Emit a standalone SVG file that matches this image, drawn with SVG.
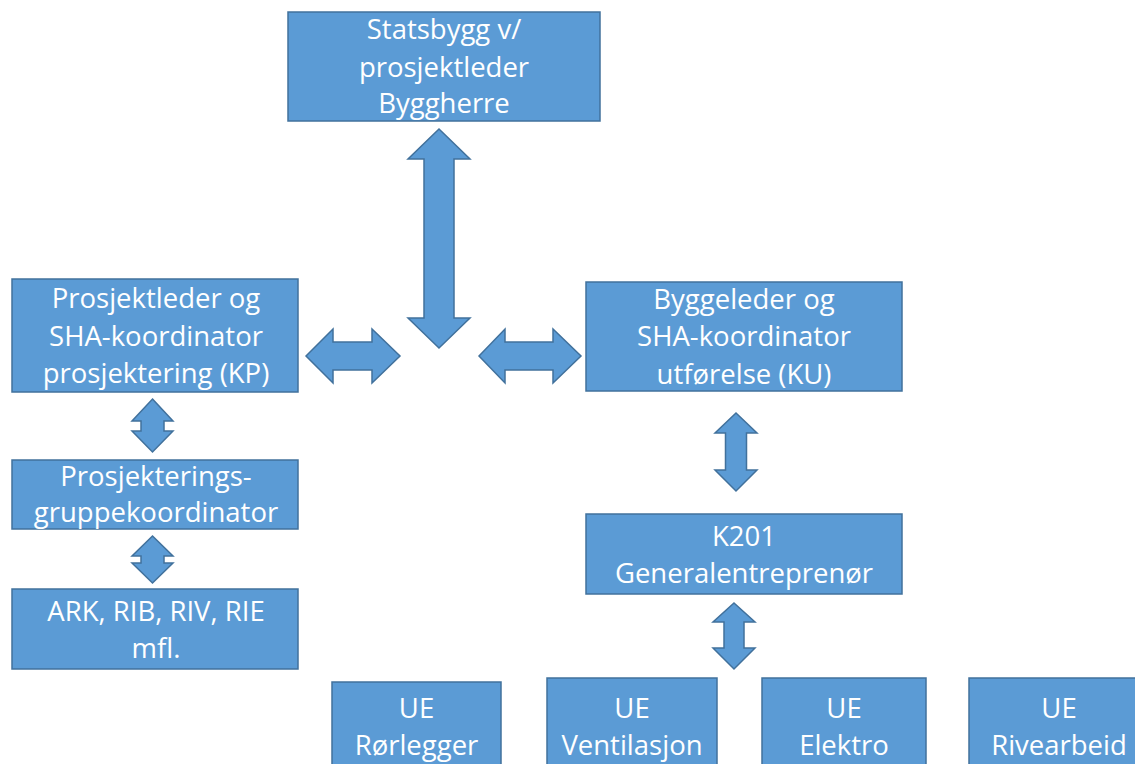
<svg xmlns="http://www.w3.org/2000/svg" width="1135" height="764" viewBox="0 0 1135 764">
<style>
.box{fill:#5B9BD5;stroke:#41719C;stroke-width:1.5}
.arr{fill:#5B9BD5;stroke:#41719C;stroke-width:1.5;stroke-linejoin:miter}
text{font-family:"Open Sans","Noto Sans","Liberation Sans",sans-serif;font-size:27.5px;fill:#FFFFFF;text-anchor:middle}
</style>
<rect width="1135" height="764" fill="#FFFFFF"/>
<g id="connectors">
<polygon class="arr" points="439,129 470,159 454,159 454,318 470,318 439,348 408,318 424,318 424,159 408,159"/>
<polygon class="arr" points="306,356 333,329 333,342 372,342 372,329 400,356 372,383 372,370 333,370 333,383"/>
<polygon class="arr" points="479,356 505,329 505,342 553,342 553,329 581,356 553,383 553,370 505,370 505,383"/>
<polygon class="arr" points="152.5,399 173,421 164,421 164,431 173,431 152.5,452 132,431 141,431 141,421 132,421"/>
<polygon class="arr" points="152.5,536 173,556 164,556 164,563 173,563 152.5,583 132,563 141,563 141,556 132,556"/>
<polygon class="arr" points="736,413 757,433 746.5,433 746.5,470 757,470 736,491 715,470 725.5,470 725.5,433 715,433"/>
<polygon class="arr" points="734,603 755,622 744,622 744,648 755,648 734,669 713,648 724,648 724,622 713,622"/>
</g>
<g id="byggherre">
<rect class="box" x="288" y="12" width="312" height="109"/>
<text x="444" y="39">Statsbygg v/</text>
<text x="444" y="77">prosjektleder</text>
<text x="444" y="113">Byggherre</text>
</g>
<g id="kp">
<rect class="box" x="12" y="279" width="286" height="113"/>
<text x="156" y="308">Prosjektleder og</text>
<text x="156" y="346">SHA-koordinator</text>
<text x="156" y="383">prosjektering (KP)</text>
</g>
<g id="ku">
<rect class="box" x="586" y="282" width="316" height="109"/>
<text x="744" y="309">Byggeleder og</text>
<text x="744" y="346">SHA-koordinator</text>
<text x="744" y="384">utførelse (KU)</text>
</g>
<g id="pgk">
<rect class="box" x="12" y="460" width="286" height="69"/>
<text x="156" y="486">Prosjekterings-</text>
<text x="156" y="522">gruppekoordinator</text>
</g>
<g id="rg">
<rect class="box" x="12" y="589" width="286" height="80"/>
<text x="156" y="621">ARK, RIB, RIV, RIE</text>
<text x="156" y="658">mfl.</text>
</g>
<g id="ge">
<rect class="box" x="586" y="514" width="316" height="80"/>
<text x="744" y="546">K201</text>
<text x="744" y="583">Generalentreprenør</text>
</g>
<g id="ue-ror">
<rect class="box" x="332" y="682" width="169" height="90"/>
<text x="416.5" y="718">UE</text>
<text x="416.5" y="755">Rørlegger</text>
</g>
<g id="ue-vent">
<rect class="box" x="547" y="678" width="170" height="94"/>
<text x="632" y="718">UE</text>
<text x="632" y="755">Ventilasjon</text>
</g>
<g id="ue-el">
<rect class="box" x="762" y="678" width="164" height="94"/>
<text x="844" y="718">UE</text>
<text x="844" y="755">Elektro</text>
</g>
<g id="ue-riv">
<rect class="box" x="969" y="678" width="180" height="94"/>
<text x="1059" y="718">UE</text>
<text x="1059" y="755">Rivearbeid</text>
</g>
</svg>
